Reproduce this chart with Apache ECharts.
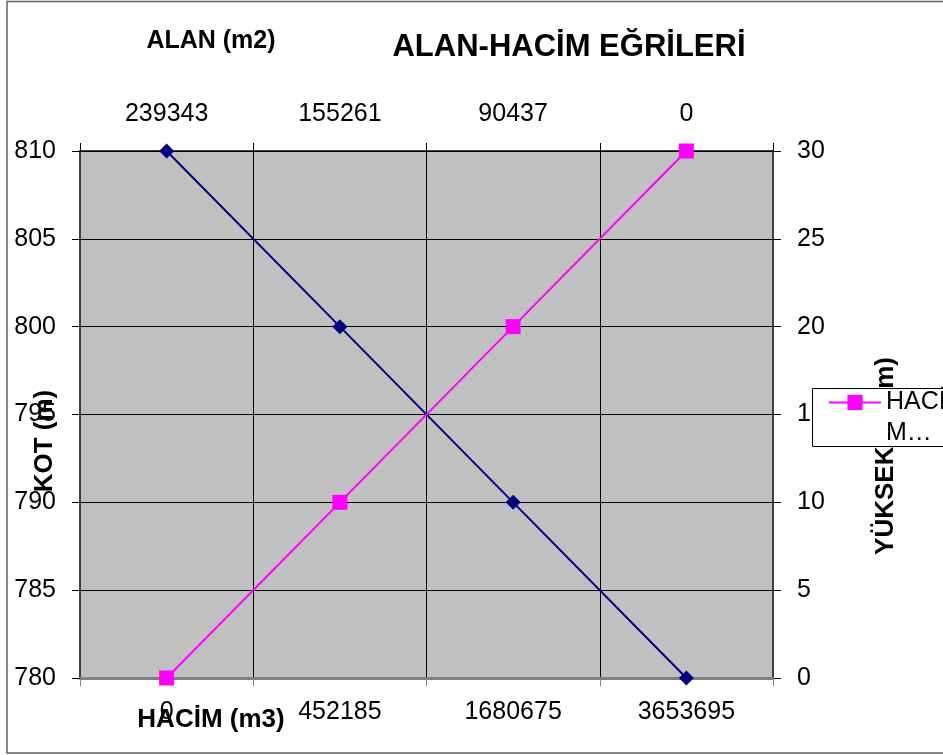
<!DOCTYPE html>
<html><head><meta charset="utf-8">
<script src="https://cdn.jsdelivr.net/npm/echarts@6/dist/echarts.min.js"></script>
<style>html,body{margin:0;padding:0;background:#fff}#c{width:943px;height:755px}</style>
</head><body><div id="c"></div>
<script>
// Data
const hacimLabels = ['0', '452185', '1680675', '3653695'];   // bottom axis (m3)
const alanLabels = ['239343', '155261', '90437', '0'];         // top axis (m2)
const alanKot = [810, 800, 790, 780];                          // navy series
const hacimKot = [780, 790, 800, 810];                         // magenta series
const kotMin = 780, kotMax = 810, kotStep = 5;
const yukMin = 0, yukMax = 30, yukStep = 5;

const FONT = '"Liberation Sans", Arial, sans-serif';
const chart = echarts.init(document.getElementById('c'), null, {renderer: 'canvas'});

const labelStyle = {color: '#000', fontSize: 25, fontFamily: FONT};

chart.setOption({
  animation: false,
  backgroundColor: '#fff',
  textStyle: {fontFamily: FONT},
  grid: {left: 80, right: 170, top: 151, bottom: 77, show: true, backgroundColor: '#C0C0C0', borderWidth: 0},
  xAxis: [
    {
      type: 'category', position: 'bottom', data: hacimLabels, boundaryGap: true,
      axisLine: {show: true, lineStyle: {color: '#808080', width: 3}},
      axisTick: {show: true, inside: false, length: 8, interval: 0, lineStyle: {color: '#808080', width: 1}},
      axisLabel: Object.assign({margin: 22, interval: 0}, labelStyle),
      splitLine: {show: true, interval: 0, lineStyle: {color: '#000', width: 1}}
    },
    {
      type: 'category', position: 'top', data: alanLabels, boundaryGap: true,
      axisLine: {show: true, lineStyle: {color: '#000', width: 1.5}},
      axisTick: {show: true, inside: false, length: 8, interval: 0, lineStyle: {color: '#000', width: 1}},
      axisLabel: Object.assign({margin: 24, interval: 0}, labelStyle),
      splitLine: {show: false}
    }
  ],
  yAxis: [
    {
      type: 'value', position: 'left', min: kotMin, max: kotMax, interval: kotStep,
      axisLine: {show: true, lineStyle: {color: '#404040', width: 2}},
      axisTick: {show: true, inside: false, length: 8, lineStyle: {color: '#000', width: 1}},
      axisLabel: Object.assign({margin: 24}, labelStyle),
      splitLine: {show: true, lineStyle: {color: '#000', width: 1}}
    },
    {
      type: 'value', position: 'right', min: yukMin, max: yukMax, interval: yukStep,
      axisLine: {show: true, lineStyle: {color: '#404040', width: 2}},
      axisTick: {show: true, inside: false, length: 8, lineStyle: {color: '#000', width: 1}},
      axisLabel: Object.assign({margin: 24}, labelStyle),
      splitLine: {show: false}
    }
  ],
  legend: {
    data: ['HACİM'],
    left: 812, top: 356, z: 20,
    padding: [0, 0, 0, 16],
    itemWidth: 52, itemHeight: 19, itemGap: 5,
    formatter: () => '\nHACİ\nM…',
    textStyle: {color: '#000', fontSize: 25, fontFamily: FONT, lineHeight: 31},
    selectedMode: false
  },
  series: [
    {
      name: 'ALAN', type: 'line', xAxisIndex: 0, yAxisIndex: 0, data: alanKot,
      symbol: 'diamond', symbolSize: 15, clip: false,
      lineStyle: {color: '#000080', width: 2}, itemStyle: {color: '#000080'}
    },
    {
      name: 'HACİM', type: 'line', xAxisIndex: 0, yAxisIndex: 0, data: hacimKot,
      symbol: 'rect', symbolSize: 15, clip: false,
      lineStyle: {color: '#FF00FF', width: 2}, itemStyle: {color: '#FF00FF'}
    }
  ],
  graphic: [
    {type: 'rect', z: 0, silent: true, shape: {x: 7, y: 1.5, width: 1000, height: 751.5},
     style: {fill: null, stroke: '#606060', lineWidth: 1.5}},
    {type: 'text', x: 569, y: 47, z: 5,
     style: {text: 'ALAN-HACİM EĞRİLERİ', font: 'bold 31px ' + FONT, fill: '#000', align: 'center', verticalAlign: 'middle'}},
    {type: 'text', x: 211, y: 41, z: 5,
     style: {text: 'ALAN (m2)', font: 'bold 25px ' + FONT, fill: '#000', align: 'center', verticalAlign: 'middle'}},
    {type: 'text', x: 211, y: 720, z: 5,
     style: {text: 'HACİM (m3)', font: 'bold 26px ' + FONT, fill: '#000', align: 'center', verticalAlign: 'middle'}},
    {type: 'text', x: 45, y: 441, z: 5, rotation: Math.PI / 2,
     style: {text: 'KOT (m)', font: 'bold 26px ' + FONT, fill: '#000', align: 'center', verticalAlign: 'middle'}},
    {type: 'text', x: 886, y: 456, z: 1, rotation: Math.PI / 2,
     style: {text: 'YÜKSEKLİK (m)', font: 'bold 26px ' + FONT, fill: '#000', align: 'center', verticalAlign: 'middle'}},
    {type: 'rect', z: 10, silent: true, shape: {x: 812.5, y: 388.5, width: 200, height: 58},
     style: {fill: '#fff', stroke: '#000', lineWidth: 1}}
  ]
});
</script></body></html>
